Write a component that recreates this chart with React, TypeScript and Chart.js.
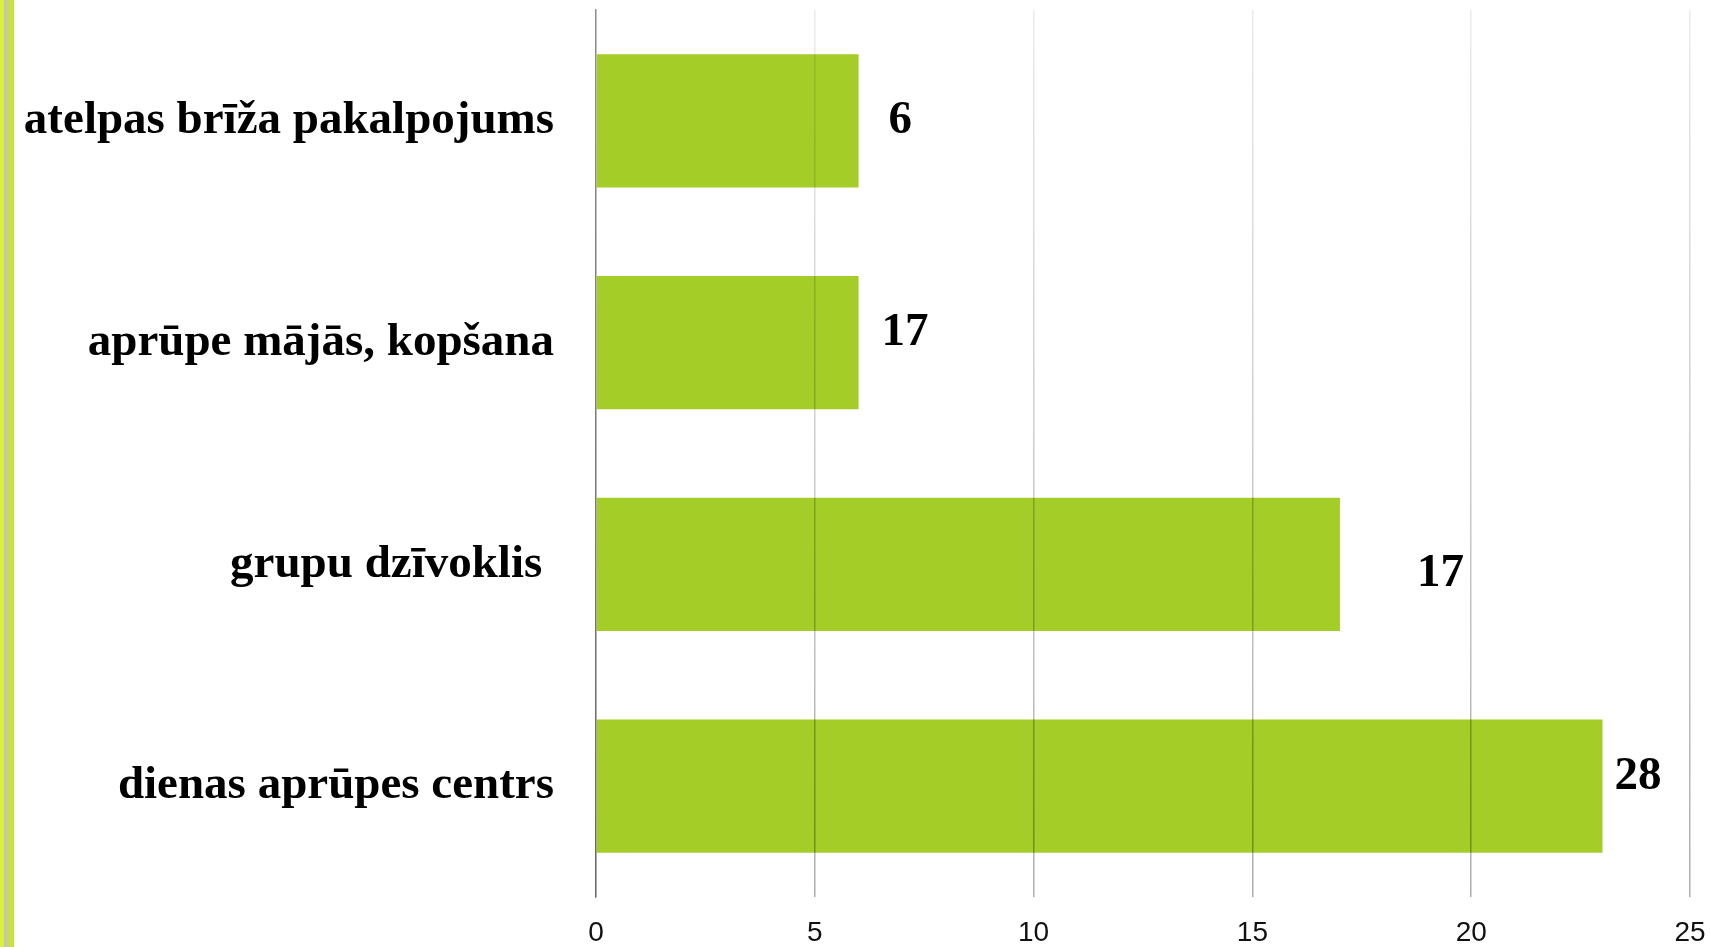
import React, { useEffect, useRef } from "react";
import { Chart, registerables } from "chart.js";

Chart.register(...registerables);

const categories = [
  "atelpas brīža pakalpojums",
  "aprūpe mājās, kopšana",
  "grupu dzīvoklis ",
  "dienas aprūpes centrs",
];
const barValues = [6, 6, 17, 23];
const valueLabels = ["6", "17", "17", "28"];
const xTicks = [0, 5, 10, 15, 20, 25];

// label placement styling (pixels from bar end / bar centre)
const labelDx = [30, 23, 77, 12];
const labelDy = [0, -10, 9, -9];

const SERIF = "'Liberation Serif', 'Times New Roman', serif";
const SANS = "'Liberation Sans', Arial, sans-serif";

const valueLabelPlugin = {
  id: "valueLabels",
  afterDatasetsDraw(chart: any) {
    const meta = chart.getDatasetMeta(0);
    const ctx = chart.ctx;
    ctx.save();
    ctx.font = `bold 47px ${SERIF}`;
    ctx.fillStyle = "#000";
    ctx.textAlign = "left";
    ctx.textBaseline = "middle";
    meta.data.forEach((bar: any, i: number) => {
      ctx.fillText(valueLabels[i], bar.x + labelDx[i], bar.y + labelDy[i]);
    });
    ctx.restore();
  },
};

export default function App() {
  const ref = useRef<HTMLCanvasElement | null>(null);
  useEffect(() => {
    if (!ref.current) return;
    const chart = new Chart(ref.current, {
      type: "bar",
      data: {
        labels: categories,
        datasets: [
          {
            data: barValues,
            backgroundColor: "#A4CD28",
            borderWidth: 0,
            barPercentage: 0.6,
            categoryPercentage: 1,
          },
        ],
      },
      options: {
        indexAxis: "y",
        animation: false,
        responsive: false,
        devicePixelRatio: 1,
        layout: { padding: { top: 10, right: 21, left: 0, bottom: 0 } },
        plugins: { legend: { display: false }, tooltip: { enabled: false } },
        scales: {
          x: {
            min: 0,
            max: 25,
            afterBuildTicks: (scale: any) => {
              scale.ticks = xTicks.map((v) => ({ value: v }));
            },
            afterFit: (scale: any) => {
              scale.height = 50;
              scale.paddingLeft = 0;
              scale.paddingRight = 0;
              scale.paddingTop = 0;
              scale.paddingBottom = 0;
            },
            border: { display: false },
            grid: {
              z: 1,
              drawTicks: false,
              lineWidth: 1.5,
              color: (c: any) => {
                const ch = c.chart;
                const area = ch.chartArea;
                if (!area) return "rgba(0,0,0,0.2)";
                const g = ch.ctx.createLinearGradient(0, area.top, 0, area.bottom);
                g.addColorStop(0, "rgba(0,0,0,0.08)");
                g.addColorStop(1, "rgba(0,0,0,0.32)");
                return g;
              },
            },
            ticks: {
              padding: 19,
              color: "#111",
              font: { family: SANS, size: 28 },
            },
          },
          y: {
            afterFit: (scale: any) => {
              scale.width = 596;
              scale.paddingLeft = 0;
              scale.paddingRight = 0;
              scale.paddingTop = 0;
              scale.paddingBottom = 0;
            },
            border: { display: true, color: "#999", width: 1.5 },
            grid: { display: false, drawTicks: false },
            ticks: {
              padding: 42,
              color: "#000",
              font: { family: SERIF, size: 47, weight: "bold" },
            },
          },
        },
      },
      plugins: [valueLabelPlugin],
    });
    return () => chart.destroy();
  }, []);

  return (
    <div style={{ position: "fixed", left: 0, top: 0, width: 1711, height: 947, background: "#fff" }}>
      <canvas ref={ref} width={1711} height={947} style={{ display: "block" }} />
      <div
        style={{
          position: "absolute",
          left: 0,
          top: 0,
          width: 15,
          height: 947,
          background:
            "linear-gradient(to right, #dcf03e 0px, #dcf03e 4px, #c4c4c4 4px, #c4c4c4 7px, #c8e045 7px, #c8e045 14px, #e8f0c0 14px, #ffffff 15px)",
        }}
      />
    </div>
  );
}
